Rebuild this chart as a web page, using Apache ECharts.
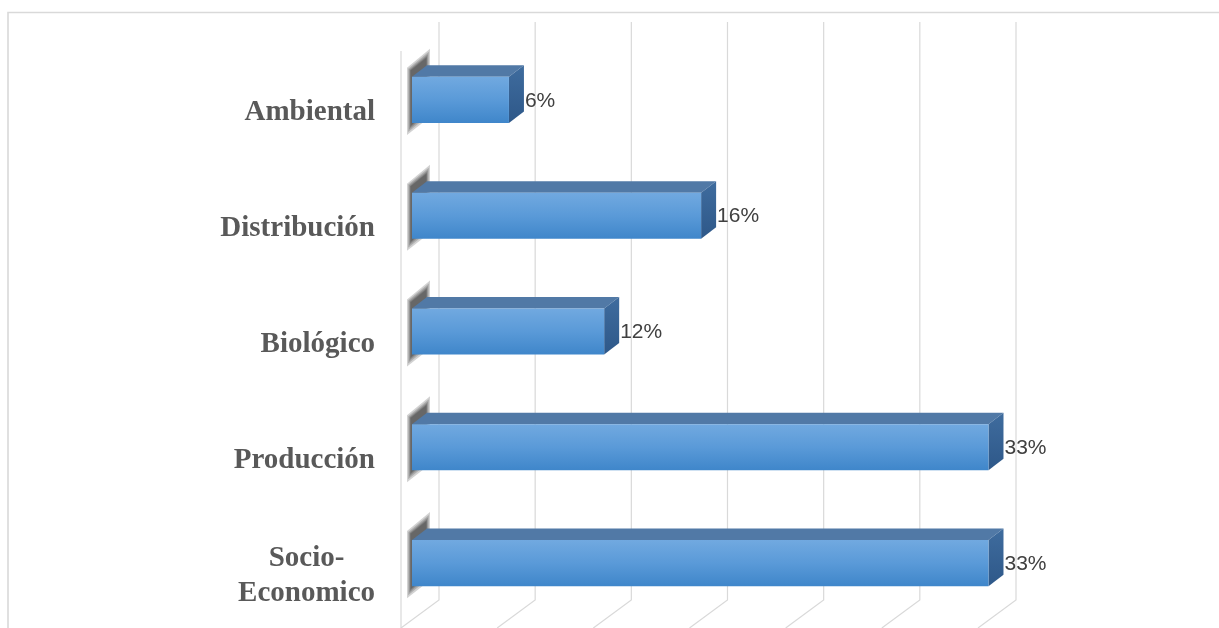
<!DOCTYPE html>
<html>
<head>
<meta charset="utf-8">
<script src="https://cdn.jsdelivr.net/npm/echarts@6/dist/echarts.min.js"></script>
<style>
html,body{margin:0;padding:0;background:#fff;}
#chart{width:1219px;height:628px;}
</style>
</head>
<body>
<div id="chart"></div>
<script>
// Data
const categories = ['Ambiental', 'Distribución', 'Biológico', 'Producción', 'Socio-Economico'];
const values = [5.6, 16.7, 11.1, 33.3, 33.3];          // bar lengths (%)
const valueLabels = ['6%', '16%', '12%', '33%', '33%']; // labels as printed
const axisMax = 33.33;
const axisInterval = 5.555;
const gridTicks = [0, 5.555, 11.11, 16.665, 22.22, 27.775, 33.33];

const chart = echarts.init(document.getElementById('chart'), null, {renderer: 'canvas'});

const DX = 15, DY = -11.5; // bar depth offset

const barData = values.map((v, i) => [v, i]);

function shadowLayers(x0, yT, yB) {
  const out = [];
  const steps = [10, 7, 4.5, 2.5, 1];
  steps.forEach(function (g) {
    out.push({
      type: 'polygon',
      shape: {points: [
        [x0 - 1 - g * 0.4, yT - 6 - g * 0.3],
        [x0 + 14 + g * 0.4, yT - 18 - g],
        [x0 + 14 + g * 0.4, yB - 12 + g * 0.6],
        [x0 - 1 - g * 0.4, yB + 2 + g]
      ]},
      style: {fill: 'rgba(30,30,30,0.2)'}
    });
  });
  return out;
}

const option = {
  animation: false,
  backgroundColor: '#ffffff',
  graphic: [{
    type: 'rect',
    shape: {x: 8, y: 12.5, width: 1400, height: 800},
    style: {fill: 'none', stroke: '#d9d9d9', lineWidth: 1.6},
    silent: true, z: -10
  }],
  grid: [
    {left: 412, right: 230, top: 42, bottom: 7},
    {left: 439, right: 203, top: 22, bottom: 28}
  ],
  xAxis: [
    {gridIndex: 0, type: 'value', min: 0, max: axisMax, interval: axisInterval,
     axisLabel: {show: false}, axisLine: {show: false}, axisTick: {show: false}, splitLine: {show: false}},
    {gridIndex: 1, type: 'value', min: 0, max: axisMax, interval: axisInterval,
     axisLabel: {show: false}, axisLine: {show: false}, axisTick: {show: false}, splitLine: {show: false}}
  ],
  yAxis: [
    {gridIndex: 0, type: 'category', data: categories, inverse: true,
     axisLine: {show: false}, axisTick: {show: false},
     axisLabel: {
       margin: 37,
       fontFamily: 'Liberation Serif', fontWeight: 'bold', fontSize: 29, color: '#595959',
       padding: [26, 0, 0, 0],
       formatter: function (v) {
         if (v === 'Socio-Economico') return '{c|Socio-}\n{c|Economico}';
         return '{r|' + v + '}';
       },
       rich: {
         c: {fontFamily: 'Liberation Serif', fontWeight: 'bold', fontSize: 29, color: '#595959', align: 'center', lineHeight: 35},
         r: {fontFamily: 'Liberation Serif', fontWeight: 'bold', fontSize: 29, color: '#595959'}
       }
     }},
    {gridIndex: 1, type: 'value', min: 0, max: 1, show: false}
  ],
  series: [
    {
      type: 'custom',
      xAxisIndex: 1, yAxisIndex: 1,
      data: gridTicks.map(t => [t]),
      z: 1,
      silent: true,
      renderItem: function (params, api) {
        const v = api.value(0);
        const top = api.coord([v, 1]);
        const bot = api.coord([v, 0]);
        const children = [{
          type: 'polyline',
          shape: {points: [[top[0], top[1]], [bot[0], bot[1]], [bot[0] - 38, bot[1] + 28]]},
          style: {stroke: '#d9d9d9', lineWidth: 1.2, fill: null}
        }];
        if (v === 0) {
          children.push({
            type: 'line',
            shape: {x1: top[0] - 38, y1: top[1] + 29, x2: bot[0] - 38, y2: bot[1] + 28},
            style: {stroke: '#d9d9d9', lineWidth: 1.2}
          });
        }
        return {type: 'group', children: children};
      }
    },
    {
      type: 'custom',
      xAxisIndex: 0, yAxisIndex: 0,
      data: barData,
      encode: {x: 0, y: 1},
      z: 5,
      renderItem: function (params, api) {
        const v = api.value(0);
        const idx = api.value(1);
        const s = api.coord([0, idx]);
        const e = api.coord([v, idx]);
        const band = api.size([0, 1])[1];
        const h = band * 0.398;
        const x0 = s[0], x1 = e[0];
        const yT = s[1] - h / 2, yB = s[1] + h / 2;
        const children = shadowLayers(x0, yT, yB).concat([
          {
            type: 'polygon',
            shape: {points: [[x0, yT], [x0 + DX, yT + DY], [x1 + DX, yT + DY], [x1, yT]]},
            style: {fill: '#5179a6'}
          },
          {
            type: 'polygon',
            shape: {points: [[x1, yT], [x1 + DX, yT + DY], [x1 + DX, yB + DY], [x1, yB]]},
            style: {fill: new echarts.graphic.LinearGradient(0, 0, 0, 1, [
              {offset: 0, color: '#3f6c9e'}, {offset: 1, color: '#2e5889'}])}
          },
          {
            type: 'rect',
            shape: {x: x0, y: yT, width: x1 - x0, height: yB - yT},
            style: {fill: new echarts.graphic.LinearGradient(0, 0, 0, 1, [
              {offset: 0, color: '#71a9e0'}, {offset: 0.5, color: '#5a9ad8'}, {offset: 1, color: '#3f86ca'}])}
          },
          {
            type: 'text',
            style: {
              text: valueLabels[idx],
              x: x1 + DX + 1, y: s[1] + 1,
              textAlign: 'left', textVerticalAlign: 'middle',
              fontFamily: 'Liberation Sans', fontSize: 21, fill: '#404040'
            }
          }
        ]);
        return {type: 'group', children: children};
      }
    }
  ]
};
chart.setOption(option);
</script>
</body>
</html>
